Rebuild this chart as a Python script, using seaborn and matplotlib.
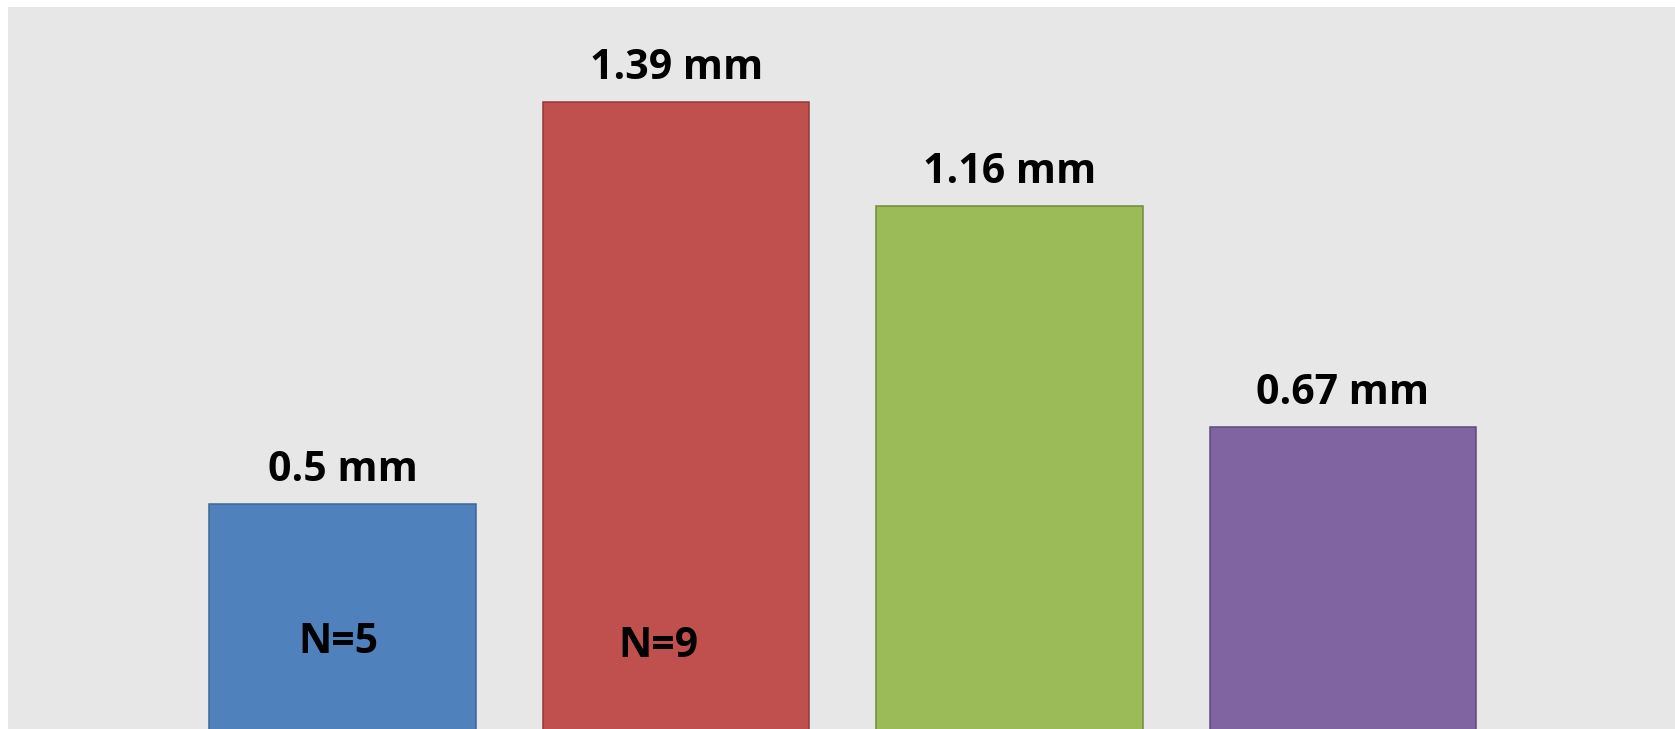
import matplotlib
matplotlib.use("Agg")
import matplotlib.pyplot as plt
import seaborn as sns
import pandas as pd

groups = ["Group 1", "Group 2", "Group 3", "Group 4"]
values = [0.5, 1.39, 1.16, 0.67]
value_labels = ["0.5 mm", "1.39 mm", "1.16 mm", "0.67 mm"]
n_labels = ["N=5", "N=9", "", ""]

bar_colors = ["#4F81BD", "#C0504D", "#9BBB59", "#8064A2"]
edge_colors = ["#3C6898", "#8E3B39", "#718B3F", "#5E4A7A"]

sns.set_theme(style="white")
plt.rcParams["font.family"] = ["Open Sans", "DejaVu Sans"]

W, H = 1675, 729
fig = plt.figure(figsize=(W / 100, H / 100), dpi=100)
fig.patch.set_facecolor("white")
ax = fig.add_axes([8 / W, -1 / H, (W - 8) / W, 723 / H])
ax.set_facecolor("#E7E7E7")

df = pd.DataFrame({"group": groups, "value": values})
sns.barplot(data=df, x="group", y="value", hue="group", palette=bar_colors,
            width=0.8, legend=False, ax=ax, saturation=1)

for patch, ec in zip(ax.patches, edge_colors):
    patch.set_edgecolor(ec)
    patch.set_linewidth(1.1)

ax.set_xlim(-1.004, 3.996)
ax.set_ylim(0, 1.601)
for s in ax.spines.values():
    s.set_visible(False)
ax.set_xticks([])
ax.set_yticks([])
ax.set_xlabel("")
ax.set_ylabel("")

for i, (v, lab) in enumerate(zip(values, value_labels)):
    ax.annotate(lab, xy=(i, v), xytext=(0, 17), textcoords="offset points",
                ha="center", va="baseline", fontsize=29.5, fontweight="bold",
                color="black")

n_offsets = [-0.013, -0.054, 0, 0]
n_heights = [0.170, 0.161, 0, 0]
for i, lab in enumerate(n_labels):
    if lab:
        ax.text(i + n_offsets[i], n_heights[i], lab, ha="center", va="baseline",
                fontsize=29.5, fontweight="bold", color="black")

fig.savefig("out.png", dpi=100)
